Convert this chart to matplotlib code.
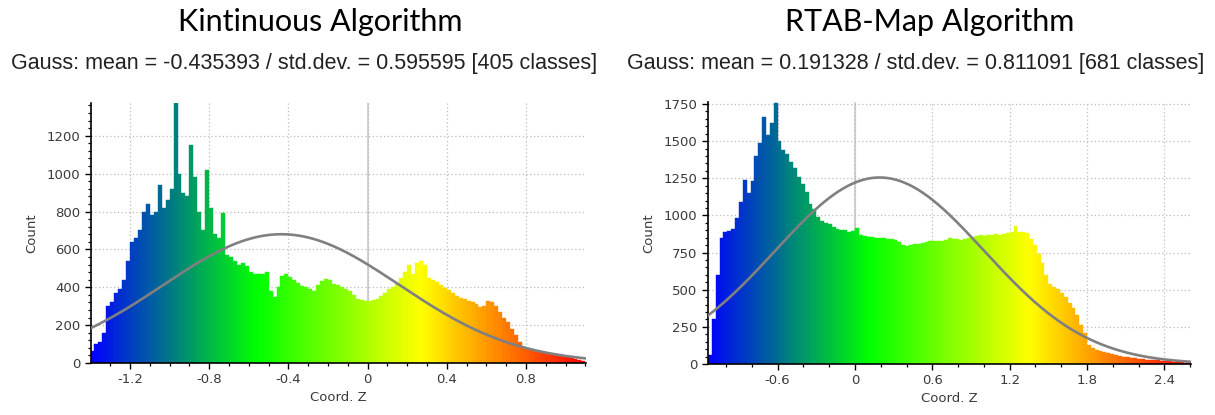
import numpy as np
import matplotlib
matplotlib.use('Agg')
import matplotlib.pyplot as plt
from matplotlib.colors import LinearSegmentedColormap
from matplotlib.ticker import MultipleLocator, AutoMinorLocator

# ---- Kintinuous histogram (bin width 0.02, first center -1.39) ----
kin_start = -1.40
kin_width = 0.02
kin_counts = [
    65, 100, 110, 160, 300, 320, 370, 390, 440, 540,
    640, 660, 700, 800, 840, 780, 800, 940, 820, 860,
    920, 1380, 1000, 900, 880, 1150, 980, 800, 700, 1020,
    820, 680, 660, 790, 570, 560, 540, 520, 530, 510,
    480, 470,
    470, 470, 480, 380, 350, 400, 460, 470, 455, 440,
    420, 405, 400, 390, 380, 410, 435, 445, 440, 415,
    410, 400, 390, 380, 360, 340, 335, 330, 330, 335,
    340, 355, 370, 390, 400, 420, 450, 480, 520, 470,
    530, 540,
    520, 450, 440, 430, 410, 395, 385, 370, 355, 345,
    340, 330, 320, 310, 295, 300, 330, 320, 300, 270,
    240, 215, 180, 150, 110, 85, 75, 70, 62, 60,
    55, 52, 48, 45, 40, 36, 32, 25, 20, 15,
    10,
]
kin_xlim = (-1.397, 1.103)
kin_ylim = (0, 1373)
kin_mean = -0.435393
kin_std = 0.595595
kin_peak = 680

# ---- RTAB-Map histogram (bin width 0.03, first center -1.125) ----
rtab_start = -1.14
rtab_width = 0.03
rtab_counts = [
    60, 300, 600, 850, 890, 895, 910, 980, 1090, 1240,
    1150, 1230, 1400, 1490, 1660, 1540, 1620, 1755, 1500, 1440,
    1410, 1360, 1320, 1260, 1210, 1160, 1080, 1040, 990, 965,
    950, 940, 925, 910, 905, 900, 890, 895, 915, 865,
    860, 855, 855, 850, 850, 845, 840, 840, 835, 820,
    800, 795, 800, 805, 810, 815, 820, 825, 830, 830,
    830, 835,
    845, 840, 840, 835, 840, 845, 855, 860, 865, 860,
    865, 870, 875, 870, 875, 880, 890, 930, 890, 885,
    880, 840, 800, 740, 680, 600, 540, 520, 505, 480,
    450, 410, 380, 330, 260, 210, 130, 110, 95, 88,
    80, 75, 65, 60, 55, 50, 45, 40, 38, 35,
    32, 30, 28, 26, 24, 22, 20, 18, 16, 14,
    12, 10, 8,
]
rtab_xlim = (-1.14, 2.607)
rtab_ylim = (0, 1763)
rtab_mean = 0.191328
rtab_std = 0.811091
rtab_peak = 1255

titles = ['Kintinuous Algorithm', 'RTAB-Map Algorithm']
subtitles = [
    'Gauss: mean = -0.435393 / std.dev. = 0.595595 [405 classes]',
    'Gauss: mean = 0.191328 / std.dev. = 0.811091 [681 classes]',
]

cmap = LinearSegmentedColormap.from_list(
    'bgyr', [(0.0, '#0000ff'), (1 / 3, '#00ff00'), (2 / 3, '#ffff00'), (1.0, '#ff0000')])


def draw_hist(ax, start, width, counts, xlim, ylim, mean, std, peak, xmajor, xminor, ymajor):
    counts = np.array(counts, dtype=float)
    centers = start + width / 2 + width * np.arange(len(counts))
    lo, hi = xlim
    colors = cmap((centers - lo) / (hi - lo))
    ax.axvline(0, color='#d2d2d2', lw=1.5, zorder=0.5)
    ax.bar(centers, counts, width=width, color=colors, edgecolor=colors,
           linewidth=0.3, zorder=2)
    gx = np.linspace(lo, hi, 400)
    gy = peak * np.exp(-(gx - mean) ** 2 / (2 * std ** 2))
    ax.plot(gx, gy, color='#808080', lw=1.9, zorder=3)

    ax.set_xlim(xlim)
    ax.set_ylim(ylim)
    ax.xaxis.set_major_locator(MultipleLocator(xmajor))
    ax.xaxis.set_minor_locator(MultipleLocator(xminor))
    ax.yaxis.set_major_locator(MultipleLocator(ymajor))
    ax.yaxis.set_minor_locator(AutoMinorLocator(5))
    ax.grid(which='major', linestyle=(0, (1, 2)), color='#bdbdbd', linewidth=0.9)
    ax.set_axisbelow(True)
    for s in ['top', 'right']:
        ax.spines[s].set_visible(False)
    for s in ['left', 'bottom']:
        ax.spines[s].set_linewidth(1.2)
    ax.tick_params(which='major', direction='out', length=4, width=1,
                   labelsize=9.5, labelcolor='#3a3a3a')
    ax.tick_params(which='minor', direction='out', length=2.5, width=0.9)
    ax.set_xlabel('Coord. Z', fontsize=9.5, color='#3a3a3a', labelpad=3)
    ax.set_ylabel('Count', fontsize=9.5, color='#3a3a3a', labelpad=6)


fig = plt.figure(figsize=(12.15, 4.15), dpi=100)
ax1 = fig.add_axes([91 / 1215, 52 / 415, 495 / 1215, 260 / 415])
ax2 = fig.add_axes([708 / 1215, 51 / 415, 483 / 1215, 262 / 415])

draw_hist(ax1, kin_start, kin_width, kin_counts, kin_xlim, kin_ylim,
          kin_mean, kin_std, kin_peak, 0.4, 0.1, 200)
ax1.set_xticks([-1.2, -0.8, -0.4, 0, 0.4, 0.8])
ax1.set_xticklabels(['-1.2', '-0.8', '-0.4', '0', '0.4', '0.8'])

draw_hist(ax2, rtab_start, rtab_width, rtab_counts, rtab_xlim, rtab_ylim,
          rtab_mean, rtab_std, rtab_peak, 0.6, 0.2, 250)
ax2.set_xticks([-0.6, 0, 0.6, 1.2, 1.8, 2.4])
ax2.set_xticklabels(['-0.6', '0', '0.6', '1.2', '1.8', '2.4'])

title_font = ['Lato', 'DejaVu Sans']
sub_font = ['Liberation Sans', 'DejaVu Sans']
fig.text(320 / 1215, 1 - 22 / 415, titles[0], ha='center', va='center',
         fontsize=22, family=title_font)
fig.text(930 / 1215, 1 - 22 / 415, titles[1], ha='center', va='center',
         fontsize=22, family=title_font)
fig.text(304 / 1215, 1 - 64 / 415, subtitles[0], ha='center', va='center',
         fontsize=15.5, family=sub_font, color='#222222')
fig.text(916 / 1215, 1 - 64 / 415, subtitles[1], ha='center', va='center',
         fontsize=15.5, family=sub_font, color='#222222')

fig.savefig('out.png', dpi=100)
